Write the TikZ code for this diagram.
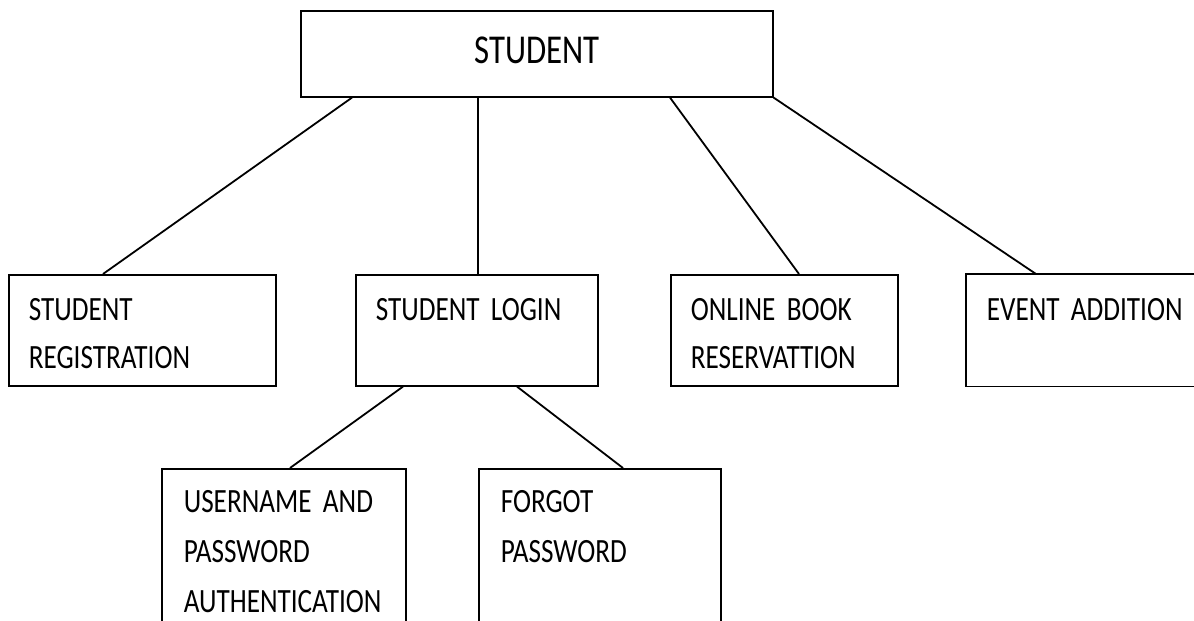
\documentclass[tikz,border=0pt]{standalone}
\usepackage{fontspec}
\setmainfont[FakeStretch=0.8]{Carlito}

\tikzset{
	box/.style={draw, line width=0.8pt, anchor=north west, align=left, inner xsep=10pt, inner ysep=0pt, text height=23pt, text depth=32.5pt, font=\fontsize{17}{24}\selectfont},
	lowbox/.style={box, inner xsep=11pt, text height=22pt, text depth=64pt, font=\fontsize{17}{25}\selectfont},
	link/.style={line width=0.9pt},
}

\begin{document}
\begin{tikzpicture}[x=0.5pt, y=-0.5pt]
	\useasboundingbox (0,0) rectangle (1194,621);
	\clip (0,0) rectangle (1194,621);
	
	\node[box, align=center, inner xsep=0pt, text width=236pt, text height=26.5pt, text depth=16.5pt, font=\fontsize{20.5}{24}\selectfont] (student) at (300,10) {STUDENT};
	
	\node[box, text width=113.5pt] (reg) at (8,274) {STUDENT\\REGISTRATION};
	\node[box, text width=101pt] (login) at (355,274) {STUDENT LOGIN};
	\node[box, text width=93.5pt] (online) at (670,274) {ONLINE BOOK\\RESERVATTION};
	\node[box, draw=none, text width=120pt] (event) at (966,274) {EVENT ADDITION};
	\draw[link, line width=0.8pt] (event.north east) -- (event.north west) |- (event.south east);
	
	\node[lowbox, text width=100pt] (user) at (161,468) {USERNAME AND\\PASSWORD\\AUTHENTICATION};
	\node[lowbox, text width=99pt] (forgot) at (478,468) {FORGOT\\PASSWORD};
	
	\draw[link] ([xshift=26pt]student.south west) -- ([xshift=47.5pt]reg.north west);
	\draw[link] ([xshift=89pt]student.south west) -- ([xshift=61.5pt]login.north west);
	\draw[link] ([xshift=185pt]student.south west) -- ([xshift=64.5pt]online.north west);
	\draw[link] (student.south east) -- ([xshift=35pt]event.north west);
	
	\draw[link] ([xshift=24pt]login.south west) -- ([xshift=64.5pt]user.north west);
	\draw[link] ([xshift=81pt]login.south west) -- ([xshift=72.5pt]forgot.north west);
	
\end{tikzpicture}
\end{document}
